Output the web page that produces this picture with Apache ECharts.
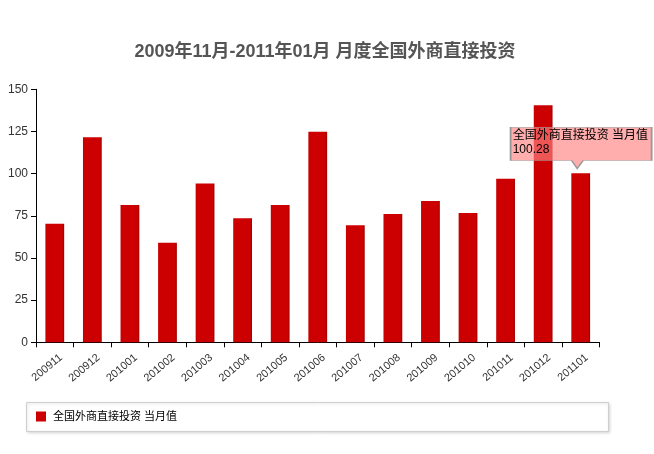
<!DOCTYPE html>
<html>
<head>
<meta charset="utf-8">
<script src="https://cdn.jsdelivr.net/npm/echarts@6/dist/echarts.min.js"></script>
<style>html,body{margin:0;padding:0;background:#fff;}#c{width:654px;height:454px;}</style>
</head>
<body>
<div id="c"></div>
<script>
var titleText = '2009年11月-2011年01月 月度全国外商直接投资';
var seriesName = '全国外商直接投资 当月值';
var categories = ['200911','200912','201001','201002','201003','201004','201005','201006','201007','201008','201009','201010','201011','201012','201101'];
var values = [70.3, 121.5, 81.4, 59.0, 94.2, 73.5, 81.4, 124.8, 69.4, 76.1, 83.8, 76.7, 97.0, 140.5, 100.28];
var yTicks = [0, 25, 50, 75, 100, 125, 150];
var calloutIndex = 14;

var FONT = 'Arial, "Liberation Sans", "Noto Sans CJK SC", sans-serif';
var chart = echarts.init(document.getElementById('c'), null, {renderer: 'canvas'});
var barColor = new echarts.graphic.LinearGradient(0, 0, 1, 0, [
  {offset: 0, color: '#c80000'}, {offset: 0.08, color: '#cc0000'},
  {offset: 0.9, color: '#cc0000'}, {offset: 1, color: '#9a0000'}
]);
chart.setOption({
  animation: false,
  backgroundColor: '#ffffff',
  title: {
    text: titleText, left: 320, textAlign: 'center', top: 38,
    textStyle: {fontFamily: FONT, fontSize: 18, fontWeight: 'bold', color: '#555555'}
  },
  graphic: [{
    type: 'rect', left: 26, top: 402, z: -1,
    shape: {width: 582, height: 29},
    style: {fill: '#ffffff', stroke: '#cfcfcf', lineWidth: 1, shadowBlur: 3, shadowColor: 'rgba(0,0,0,0.15)', shadowOffsetX: 1, shadowOffsetY: 1}
  }],
  legend: {
    left: 36, top: 411, icon: 'rect', itemWidth: 10, itemHeight: 10, padding: 0,
    textStyle: {fontFamily: FONT, fontSize: 11, color: '#000', padding: [0, 0, 0, 2]},
    data: [{name: seriesName, itemStyle: {color: '#cc0000'}}]
  },
  grid: {left: 36, right: 54.5, top: 89.3, bottom: 111.7, containLabel: false, outerBoundsMode: 'none'},
  xAxis: {
    type: 'category', data: categories,
    axisLine: {lineStyle: {color: '#000', width: 1}},
    axisTick: {show: true, length: 5, lineStyle: {color: '#000'}},
    axisLabel: {rotate: 40, margin: 19, padding: [0, -8, 0, 0], fontSize: 11, color: '#333', fontFamily: FONT, interval: 0}
  },
  yAxis: {
    type: 'value', min: yTicks[0], max: yTicks[yTicks.length - 1], interval: 25,
    splitLine: {show: false},
    axisLine: {show: true, lineStyle: {color: '#000', width: 1}},
    axisTick: {show: true, length: 5, lineStyle: {color: '#000'}},
    axisLabel: {fontSize: 12, color: '#333', fontFamily: FONT, margin: 8}
  },
  series: [{
    type: 'bar', name: seriesName, data: values,
    barWidth: '50%',
    itemStyle: {color: barColor},
    markPoint: {
      silent: true,
      data: [{
        coord: [calloutIndex, values[calloutIndex]],
        value: values[calloutIndex],
        symbol: 'path://M0,0 L141,0 L141,33.4 L72.6,33.4 L66.6,41.4 L61,33.4 L0,33.4 Z',
        symbolSize: [141, 41.4],
        symbolKeepAspect: false,
        symbolOffset: [0.4, -25.3],
        itemStyle: {color: 'rgba(255,130,130,0.66)', borderColor: '#999999', borderWidth: 1},
        label: {
          show: true, position: [3, 2], align: 'left', verticalAlign: 'top',
          fontFamily: FONT, fontSize: 12, lineHeight: 14, color: '#000',
          formatter: function (p) { return seriesName + '\n' + values[calloutIndex].toFixed(2); }
        }
      }]
    }
  }]
});
</script>
</body>
</html>
